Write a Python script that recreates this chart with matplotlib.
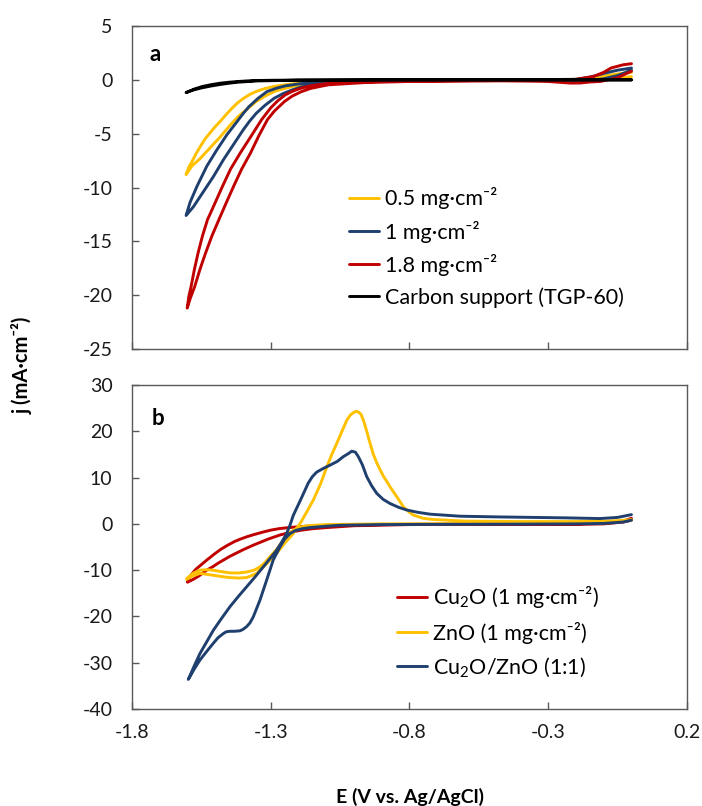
import matplotlib
matplotlib.use("Agg")
import matplotlib.pyplot as plt

plt.rcParams['font.family'] = ['Lato', 'DejaVu Sans']
plt.rcParams['mathtext.fontset'] = 'custom'
plt.rcParams['mathtext.rm'] = 'Lato'
plt.rcParams['mathtext.it'] = 'Lato:italic'
plt.rcParams['mathtext.bf'] = 'Lato:bold'

# ---------------- Panel a data (E in V, j in mA/cm2) ----------------
a_labels = ['0.5 mg·cm⁻²', '1 mg·cm⁻²', '1.8 mg·cm⁻²', 'Carbon support (TGP-60)']
a_colors = ['#FFC000', '#1F3F6E', '#C00000', '#000000']

a05_E_fwd = [0.0, -0.05, -0.1, -0.15, -0.2, -0.4, -0.6, -0.8, -1.0, -1.1, -1.157, -1.19, -1.222, -1.255, -1.287, -1.32, -1.352, -1.38, -1.417, -1.446, -1.482, -1.518, -1.554, -1.584, -1.605]
a05_j_fwd = [0.3, 0.15, 0.05, 0.0, 0.0, 0.0, -0.02, -0.05, -0.1, -0.18, -0.31, -0.45, -0.62, -0.83, -1.08, -1.5, -2.0, -2.6, -3.4, -4.2, -5.3, -6.3, -7.3, -8.0, -8.8]
a05_E_rev = [-1.605, -1.595, -1.584, -1.57, -1.554, -1.537, -1.518, -1.50, -1.48, -1.46, -1.44, -1.42, -1.40, -1.375, -1.35, -1.32, -1.29, -1.255, -1.22, -1.16, -1.1, -1.0, -0.8, -0.6, -0.4, -0.2, -0.15, -0.1, -0.05, 0.0]
a05_j_rev = [-8.8, -8.1, -7.6, -6.9, -6.2, -5.5, -4.9, -4.35, -3.8, -3.2, -2.65, -2.15, -1.75, -1.35, -1.05, -0.8, -0.62, -0.48, -0.37, -0.24, -0.16, -0.08, -0.03, 0.0, 0.0, 0.05, 0.15, 0.35, 0.55, 0.7]

a1_E_fwd = [0.0, -0.05, -0.1, -0.15, -0.2, -0.4, -0.6, -0.8, -1.0, -1.079, -1.12, -1.157, -1.19, -1.222, -1.255, -1.287, -1.32, -1.352, -1.375, -1.398, -1.434, -1.470, -1.507, -1.543, -1.579, -1.605]
a1_j_fwd = [0.9, 0.4, 0.1, -0.05, -0.05, -0.02, -0.05, -0.08, -0.15, -0.25, -0.34, -0.46, -0.66, -0.93, -1.27, -1.7, -2.35, -3.1, -3.8, -4.6, -6.0, -7.4, -9.0, -10.4, -11.8, -12.6]
a1_E_rev = [-1.605, -1.598, -1.591, -1.566, -1.548, -1.530, -1.494, -1.458, -1.422, -1.40, -1.378, -1.345, -1.313, -1.28, -1.248, -1.2, -1.157, -1.0, -0.8, -0.6, -0.4, -0.2, -0.15, -0.1, -0.05, 0.0]
a1_j_rev = [-12.6, -12.0, -11.4, -9.9, -8.95, -8.0, -6.5, -5.1, -3.9, -3.15, -2.48, -1.7, -1.08, -0.78, -0.56, -0.38, -0.25, -0.1, -0.03, 0.0, 0.0, 0.05, 0.25, 0.6, 0.9, 1.1]

a18_E_fwd = [0.0, -0.03, -0.074, -0.1, -0.135, -0.2, -0.3, -0.5, -0.8, -0.96, -1.092, -1.12, -1.157, -1.19, -1.222, -1.25, -1.287, -1.312, -1.343, -1.373, -1.405, -1.434, -1.46, -1.487, -1.512, -1.535, -1.555, -1.574, -1.59, -1.601]
a18_j_fwd = [1.5, 1.4, 1.1, 0.7, 0.33, 0.05, -0.05, -0.1, -0.15, -0.25, -0.46, -0.6, -0.8, -1.1, -1.5, -2.0, -2.9, -3.7, -5.2, -6.8, -8.3, -9.9, -11.4, -13.0, -14.5, -16.1, -17.6, -19.2, -20.3, -21.2]
a18_E_rev = [-1.601, -1.595, -1.587, -1.575, -1.562, -1.546, -1.528, -1.50, -1.474, -1.445, -1.41, -1.37, -1.333, -1.30, -1.275, -1.248, -1.225, -1.2, -1.18, -1.157, -1.1, -1.0, -0.8, -0.5, -0.3, -0.22, -0.183, -0.15, -0.11, -0.05, -0.014, 0.0]
a18_j_rev = [-21.2, -20.1, -19.2, -17.6, -16.1, -14.5, -13.0, -11.4, -9.9, -8.3, -6.8, -5.2, -3.7, -2.6, -1.95, -1.4, -1.1, -0.85, -0.7, -0.55, -0.35, -0.2, -0.1, -0.05, -0.15, -0.3, -0.29, -0.2, -0.14, 0.2, 0.64, 0.8]

ac_E_fwd = [0.0, -0.4, -0.8, -1.2, -1.3, -1.352, -1.385, -1.417, -1.45, -1.482, -1.515, -1.547, -1.575, -1.605]
ac_j_fwd = [0.0, 0.0, 0.0, -0.02, -0.04, -0.06, -0.1, -0.15, -0.22, -0.31, -0.45, -0.62, -0.85, -1.18]
ac_E_rev = [-1.605, -1.58, -1.55, -1.515, -1.48, -1.45, -1.42, -1.35, -1.2, -0.8, -0.4, 0.0]
ac_j_rev = [-1.18, -0.95, -0.75, -0.57, -0.42, -0.31, -0.22, -0.1, -0.03, 0.0, 0.0, 0.0]

# ---------------- Panel b data ----------------
b_labels = ['Cu$_2$O (1 mg·cm⁻²)', 'ZnO (1 mg·cm⁻²)', 'Cu$_2$O/ZnO (1:1)']
b_colors = ['#C00000', '#FFC000', '#1F3F6E']

bcu_E_fwd = [0.0, -0.03, -0.1, -0.2, -0.5, -0.8, -1.0, -1.1, -1.17, -1.22, -1.267, -1.30, -1.33, -1.36, -1.387, -1.41, -1.43, -1.455, -1.48, -1.505, -1.53, -1.55, -1.57, -1.585, -1.60]
bcu_j_fwd = [1.2, 0.6, 0.2, 0.0, -0.05, -0.1, -0.2, -0.35, -0.5, -0.72, -1.0, -1.35, -1.8, -2.3, -2.8, -3.3, -3.8, -4.6, -5.5, -6.6, -7.8, -8.8, -9.8, -10.9, -12.3]
bcu_E_rev = [-1.60, -1.58, -1.56, -1.531, -1.51, -1.49, -1.447, -1.40, -1.363, -1.31, -1.267, -1.23, -1.195, -1.15, -1.1, -1.0, -0.8, -0.5, -0.2, -0.1, -0.03, 0.0]
bcu_j_rev = [-12.6, -12.0, -11.3, -10.0, -9.3, -8.5, -7.0, -5.6, -4.6, -3.3, -2.4, -1.85, -1.4, -1.05, -0.8, -0.4, -0.15, -0.05, -0.1, 0.0, 0.4, 0.8]

bzn_E_fwd = [0.0, -0.05, -0.1, -0.3, -0.6, -0.9, -1.1, -1.17, -1.2, -1.23, -1.26, -1.28, -1.303, -1.32, -1.339, -1.36, -1.387, -1.415, -1.447, -1.48, -1.507, -1.53, -1.555, -1.58, -1.603]
bzn_j_fwd = [0.8, 0.4, 0.2, 0.1, 0.05, 0.0, -0.15, -0.4, -0.8, -1.8, -4.0, -5.6, -7.1, -8.3, -9.3, -10.0, -10.4, -10.6, -10.6, -10.3, -10.0, -9.9, -10.0, -10.7, -11.8]
bzn_E_rev = [-1.603, -1.58, -1.555, -1.53, -1.507, -1.475, -1.447, -1.415, -1.387, -1.37, -1.351, -1.315, -1.279, -1.25, -1.219, -1.19, -1.171, -1.147, -1.12, -1.098, -1.08, -1.062, -1.044, -1.026, -1.012, -1.0, -0.993, -0.985, -0.975, -0.966, -0.955, -0.942, -0.93, -0.918, -0.905, -0.895, -0.88, -0.87, -0.845, -0.822, -0.80, -0.786, -0.75, -0.714, -0.6, -0.4, -0.2, -0.1, -0.05, 0.0]
bzn_j_rev = [-12.0, -11.2, -10.7, -10.9, -11.1, -11.4, -11.6, -11.7, -11.6, -11.2, -10.7, -8.6, -6.4, -4.2, -2.1, 0.5, 2.5, 5.1, 8.7, 12.3, 15.0, 17.4, 19.9, 22.4, 23.6, 24.1, 24.3, 24.2, 23.7, 22.4, 20.2, 17.4, 15.0, 13.2, 11.6, 10.4, 9.0, 8.0, 5.8, 3.7, 2.5, 1.9, 1.2, 0.95, 0.6, 0.5, 0.5, 0.55, 0.7, 0.9]

bmix_E_fwd = [0.0, -0.03, -0.1, -0.2, -0.4, -0.7, -0.9, -1.05, -1.1, -1.159, -1.183, -1.21, -1.231, -1.25, -1.267, -1.291, -1.315, -1.339, -1.363, -1.375, -1.387, -1.40, -1.411, -1.43, -1.447, -1.46, -1.471, -1.49, -1.507, -1.53, -1.555, -1.575, -1.597]
bmix_j_fwd = [0.8, 0.4, 0.1, 0.0, -0.05, -0.1, -0.15, -0.3, -0.5, -0.8, -1.0, -1.4, -2.1, -3.3, -5.0, -7.8, -12.2, -16.5, -20.1, -21.4, -22.2, -22.8, -23.1, -23.2, -23.2, -23.3, -23.7, -24.6, -25.8, -27.5, -29.4, -31.3, -33.6]
bmix_E_rev = [-1.597, -1.575, -1.555, -1.53, -1.507, -1.477, -1.447, -1.417, -1.387, -1.357, -1.327, -1.30, -1.279, -1.26, -1.243, -1.23, -1.219, -1.19, -1.165, -1.15, -1.134, -1.11, -1.086, -1.06, -1.039, -1.02, -1.008, -0.995, -0.984, -0.97, -0.954, -0.936, -0.918, -0.895, -0.87, -0.84, -0.81, -0.77, -0.726, -0.618, -0.474, -0.234, -0.114, -0.05, 0.0]
bmix_j_rev = [-33.6, -30.6, -28.0, -25.4, -23.0, -20.4, -17.9, -15.7, -13.6, -11.5, -9.3, -7.3, -5.7, -3.9, -2.1, -0.2, 1.8, 5.5, 8.8, 10.2, 11.2, 12.0, 12.7, 13.5, 14.5, 15.2, 15.7, 15.5, 14.5, 12.8, 10.2, 8.2, 6.6, 5.3, 4.4, 3.6, 3.0, 2.5, 2.1, 1.66, 1.5, 1.3, 1.15, 1.4, 2.0]

x_ticks = [-1.8, -1.3, -0.8, -0.3, 0.2]
x_ticklabels = ['-1.8', '-1.3', '-0.8', '-0.3', '0.2']
a_yticks = [5, 0, -5, -10, -15, -20, -25]
b_yticks = [30, 20, 10, 0, -10, -20, -30, -40]

# ---------------- Figure ----------------
fig = plt.figure(figsize=(7.02, 8.06), dpi=100)
ax_a = fig.add_axes([0.188, 0.567, 0.7906, 0.4007])
ax_b = fig.add_axes([0.188, 0.1203, 0.7906, 0.402])

LW = 2.1
a_series = [(a05_E_fwd + a05_E_rev, a05_j_fwd + a05_j_rev),
            (a1_E_fwd + a1_E_rev, a1_j_fwd + a1_j_rev),
            (a18_E_fwd + a18_E_rev, a18_j_fwd + a18_j_rev),
            (ac_E_fwd + ac_E_rev, ac_j_fwd + ac_j_rev)]
for (E, j), c, lab in zip(a_series, a_colors, a_labels):
    ax_a.plot(E, j, color=c, lw=LW, label=lab, solid_joinstyle='round', solid_capstyle='round')

b_series = [(bcu_E_fwd + bcu_E_rev, bcu_j_fwd + bcu_j_rev),
            (bzn_E_fwd + bzn_E_rev, bzn_j_fwd + bzn_j_rev),
            (bmix_E_fwd + bmix_E_rev, bmix_j_fwd + bmix_j_rev)]
for (E, j), c, lab in zip(b_series, b_colors, b_labels):
    ax_b.plot(E, j, color=c, lw=LW, label=lab, solid_joinstyle='round', solid_capstyle='round')

FS_TICK = 14
for ax, yt, ylim in [(ax_a, a_yticks, (-25, 5)), (ax_b, b_yticks, (-40, 30))]:
    ax.set_xlim(-1.8, 0.2)
    ax.set_ylim(*ylim)
    ax.set_xticks(x_ticks)
    ax.set_yticks(yt)
    ax.set_yticklabels([str(v) for v in yt])
    for s in ax.spines.values():
        s.set_color('#595959')
        s.set_linewidth(1.0)
    ax.tick_params(direction='in', length=5, width=1.0, color='#595959',
                   labelsize=FS_TICK, labelcolor='#1a1a1a')
    ax.tick_params(axis='y', pad=14)
    ax.tick_params(axis='x', pad=11)

ax_a.set_xticklabels([])
ax_b.set_xticklabels(x_ticklabels)

ax_a.text(0.042, 0.913, 'a', transform=ax_a.transAxes, fontsize=16, fontweight='bold',
          ha='center', va='center')
ax_b.text(0.047, 0.898, 'b', transform=ax_b.transAxes, fontsize=16, fontweight='bold',
          ha='center', va='center')

leg_kw = dict(frameon=False, fontsize=15.5, handlelength=1.4, handletextpad=0.28,
              borderpad=0, borderaxespad=0, labelspacing=0.53, loc='center left')
ax_a.legend(bbox_to_anchor=(0.391, 0.314), **leg_kw)
ax_b.legend(bbox_to_anchor=(0.477, 0.239), **leg_kw)

fig.text(0.031, 0.547, 'j (mA·cm⁻²)', rotation=90, fontsize=14.5,
         fontweight='bold', ha='center', va='center')
fig.text(0.584, 0.0112, 'E (V vs. Ag/AgCl)', fontsize=14, fontweight='bold',
         ha='center', va='center')

fig.savefig('out.png', dpi=100)
